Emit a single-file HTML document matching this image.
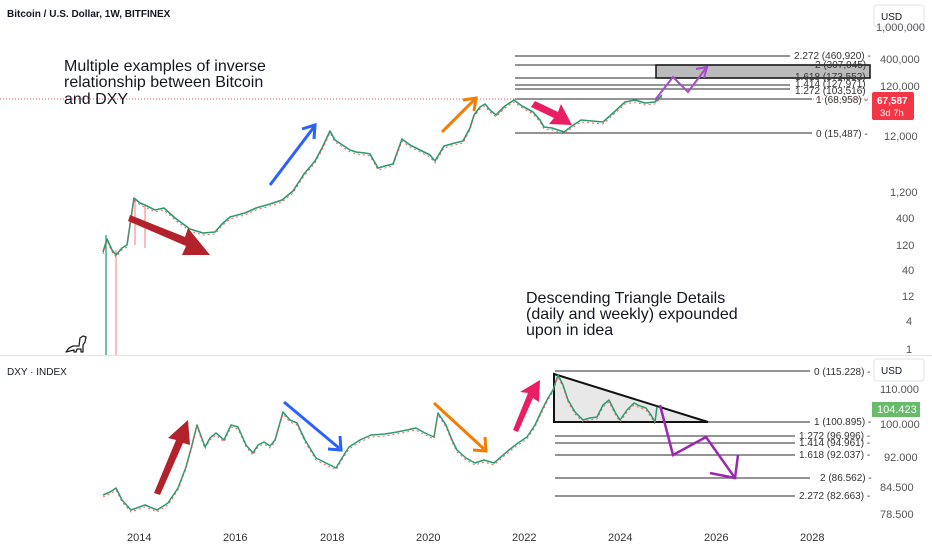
<!DOCTYPE html>
<html><head><meta charset="utf-8"><style>
html,body{margin:0;padding:0;background:#fff;}
svg{display:block;font-family:"Liberation Sans",sans-serif;}
</style></head><body>
<svg width="932" height="550" viewBox="0 0 932 550" xmlns="http://www.w3.org/2000/svg">
<rect width="932" height="550" fill="#fff"/>
<text x="7" y="17" font-size="10" font-weight="bold" fill="#131722">Bitcoin / U.S. Dollar, 1W, BITFINEX</text>
<rect x="874" y="5" width="50" height="22" rx="3" fill="#fff" stroke="#e0e3eb"/>
<text x="881" y="20" font-size="10" fill="#131722">USD</text>
<g font-size="11" fill="#555">
<text x="876" y="31">1,000,000</text>
<text x="880" y="63">400,000</text>
<text x="880" y="90">120,000</text>
<text x="884" y="140">12,000</text>
<text x="890" y="196">1,200</text>
<text x="896" y="222">400</text>
<text x="896" y="249">120</text>
<text x="902" y="274">40</text>
<text x="902" y="300">12</text>
<text x="906" y="325">4</text>
<text x="906" y="353">1</text>
</g>
<line x1="0" y1="99" x2="870" y2="99" stroke="#e55" stroke-dasharray="1,2" stroke-width="1"/>
<g font-size="16" fill="#131722">
<text x="64" y="71">Multiple examples of inverse</text>
<text x="64" y="87">relationship between Bitcoin</text>
<text x="64" y="104">and DXY</text>
<text x="526" y="303">Descending Triangle Details</text>
<text x="526" y="319">(daily and weekly) expounded</text>
<text x="526" y="335">upon in idea</text>
</g>
<g stroke="#555" stroke-width="1.2">
<line x1="515" y1="56" x2="790" y2="56"/>
<line x1="515" y1="65" x2="870" y2="65"/>
<line x1="515" y1="78" x2="870" y2="78"/>
<line x1="515" y1="85" x2="790" y2="85"/>
<line x1="515" y1="89" x2="790" y2="89"/>
<line x1="515" y1="99" x2="812" y2="99"/>
<line x1="515" y1="133" x2="812" y2="133"/>
</g>
<rect x="656" y="65" width="214" height="13" fill="#bbb" stroke="#111" stroke-width="1.5"/>
<g font-size="10" fill="#333">
<text x="794" y="59">2.272 (460,920) -</text>
<text x="815" y="68">2 (307,045)</text>
<text x="795" y="80">1.618 (173,552)</text>
<text x="795" y="87">1.414 (127,971)</text>
<text x="795" y="94">1.272 (103,516)</text>
<text x="816" y="103">1 (68,958) -</text>
<text x="816" y="137">0 (15,487) -</text>
</g>
<rect x="872" y="92" width="42" height="28" rx="2" fill="#f23645"/>
<text x="877" y="104" font-size="10" font-weight="bold" fill="#fff">67,587</text>
<text x="880" y="116" font-size="9.5" fill="#fff">3d 7h</text>
<line x1="106" y1="235" x2="106" y2="355" stroke="#089981" stroke-width="1.2"/>
<line x1="116" y1="250" x2="116" y2="355" stroke="#f77" stroke-width="1"/>
<line x1="145" y1="205" x2="145" y2="248" stroke="#f77" stroke-width="1"/>
<line x1="135" y1="200" x2="135" y2="245" stroke="#f77" stroke-width="1"/>
<polyline fill="none" stroke="#2a9a70" stroke-width="1.6" stroke-linejoin="round" points="103,252 107,239 112,250 116,255 122,248 127,245 134,198 140,203 145,205 155,210 164,208 175,218 190,229 203,233 215,232 222,224 230,217 245,213 256,208 270,204 282,200 293,191 304,174 315,161 322,148 330,131 335,140 341,144 350,150 356,152 365,153 370,154 378,168 385,166 393,164 402,139 410,145 422,151 430,155 435,161 444,146 455,143 463,141 470,128 474,115 480,107 485,104 490,110 496,115 505,106 514,100 522,106 533,112 540,120 544,127 552,128 564,132 572,126 581,120 592,121 603,122 612,114 625,102 635,100 645,103 655,102 662,95"/>
<polyline fill="none" stroke="#e55" stroke-width="0.9" stroke-dasharray="2,3" points="103,254 107,241 112,252 116,257 122,250 127,247 134,200 140,205 145,207 155,212 164,210 175,220 190,231 203,235 215,234 222,226 230,219 245,215 256,210 270,206 282,202 293,193 304,176 315,163 322,150 330,133 335,142 341,146 350,152 356,154 365,155 370,156 378,170 385,168 393,166 402,141 410,147 422,153 430,157 435,163 444,148 455,145 463,143 470,130 474,117 480,109 485,106 490,112 496,117 505,108 514,102 522,108 533,114 540,122 544,129 552,130 564,134 572,128 581,122 592,123 603,124 612,116 625,104 635,102 645,105 655,104 662,97"/>
<g stroke-width="3" fill="none">
<line x1="270" y1="185" x2="314" y2="127" stroke="#2962ff"/>
<polyline points="302,129 315,125 314,139" stroke="#2962ff"/>
<line x1="442" y1="132" x2="474" y2="100" stroke="#f57c00"/>
<polyline points="463,100 476,98 474,111" stroke="#f57c00"/>
<polyline points="655,100 673,77 688,92 706,68" stroke="#a64ac9" stroke-width="2"/>
<polyline points="696,69 707,67 704,78" stroke="#a64ac9" stroke-width="2"/>
</g>
<polygon points="130,215 185,237 188,228 210,255 182,255 186,246 128,221" fill="#b2222b"/>
<polygon points="535,101 558,112 561,104 572,125 549,124 554,118 531,107" fill="#e91e63"/>
<line x1="0" y1="355.5" x2="932" y2="355.5" stroke="#e0e3eb" stroke-width="1"/>
<path d="M66,352 l3,-4 4,-2 6,0 1,-8 3,-2 3,1 -1,5 -2,3 0,7 -2,0 0,-3 -4,0 -1,3 -2,0 0,-2 -4,1 z" fill="#fff" stroke="#222" stroke-width="1.3" stroke-linejoin="round"/>
<text x="7" y="375" font-size="10" fill="#131722">DXY · INDEX</text>
<rect x="874" y="359" width="50" height="22" rx="3" fill="#fff" stroke="#e0e3eb"/>
<text x="881" y="374" font-size="10" fill="#131722">USD</text>
<g font-size="11" fill="#555">
<text x="880" y="393">110.000</text>
<text x="880" y="428">100.000</text>
<text x="884" y="461">92.000</text>
<text x="880" y="491">84.500</text>
<text x="880" y="518">78.500</text>
</g>
<rect x="872" y="402" width="48" height="15" fill="#4caf50" opacity="0.85"/>
<text x="877" y="413" font-size="11" fill="#fff">104.423</text>
<g stroke="#555" stroke-width="1.2">
<line x1="555" y1="371" x2="810" y2="371"/>
<line x1="555" y1="422" x2="810" y2="422"/>
<line x1="555" y1="436" x2="795" y2="436"/>
<line x1="555" y1="443" x2="795" y2="443"/>
<line x1="555" y1="455" x2="795" y2="455"/>
<line x1="555" y1="478" x2="810" y2="478"/>
<line x1="555" y1="496" x2="795" y2="496"/>
</g>
<g font-size="10" fill="#333">
<text x="814" y="375">0 (115.228) -</text>
<text x="814" y="425">1 (100.895) -</text>
<text x="799" y="439">1.272 (96.996) -</text>
<text x="799" y="446">1.414 (94.961) -</text>
<text x="799" y="458">1.618 (92.037) -</text>
<text x="820" y="481">2 (86.562) -</text>
<text x="799" y="499">2.272 (82.663) -</text>
</g>
<polygon points="554,374 708,422 554,422" fill="#e8e8e8" stroke="#111" stroke-width="2"/>
<polyline fill="none" stroke="#2a9a70" stroke-width="1.5" stroke-linejoin="round" points="103,495 110,492 116,488 122,500 131,510 145,505 157,510 168,503 178,488 186,467 192,445 197,425 205,447 210,438 216,433 224,440 231,425 238,427 246,445 253,453 258,445 264,442 270,446 275,440 283,412 290,420 297,423 305,440 316,458 324,462 336,468 342,458 349,447 360,440 371,435 385,434 397,432 407,430 416,428 425,433 434,437 438,413 446,425 452,440 457,450 466,458 475,463 484,460 494,463 502,456 509,450 518,443 527,437 535,425 542,410 548,398 553,390 558,375 563,385 568,400 575,412 583,420 590,418 597,417 603,405 609,400 615,412 620,420 627,410 634,403 640,406 646,408 651,415 655,422 657,407"/>
<polyline fill="none" stroke="#e55" stroke-width="0.9" stroke-dasharray="2,3" points="103,497 110,494 116,490 122,502 131,512 145,507 157,512 168,505 178,490 186,469 192,447 197,427 205,449 210,440 216,435 224,442 231,427 238,429 246,447 253,455 258,447 264,444 270,448 275,442 283,414 290,422 297,425 305,442 316,460 324,464 336,470 342,460 349,449 360,442 371,437 385,436 397,434 407,432 416,430 425,435 434,439 438,415 446,427 452,442 457,452 466,460 475,465 484,462 494,465 502,458 509,452 518,445 527,439 535,427 542,412 548,400 553,392 558,377 563,387 568,402 575,414 583,422 590,420 597,419 603,407 609,402 615,414 620,422 627,412 634,405 640,408 646,410 651,417 655,424"/>
<g stroke-width="3" fill="none">
<line x1="284" y1="402" x2="339" y2="448" stroke="#2962ff"/>
<polyline points="340,436 341,450 328,449" stroke="#2962ff"/>
<line x1="434" y1="403" x2="484" y2="449" stroke="#f57c00"/>
<polyline points="485,437 486,451 473,450" stroke="#f57c00"/>
<polyline points="660,405 673,455 706,437 735,478" stroke="#9c27b0" stroke-width="2.5"/>
<polyline points="710,473 735,478 738,455" stroke="#9c27b0" stroke-width="2.5"/>
</g>
<polygon points="154,493 176,440 168,438 188,420 190,445 183,443 160,495" fill="#b2222b"/>
<polygon points="513,430 528,393 520,392 540,380 539,402 533,398 518,432" fill="#e91e63"/>
<g font-size="11" fill="#333">
<text x="127" y="541">2014</text>
<text x="223" y="541">2016</text>
<text x="320" y="541">2018</text>
<text x="416" y="541">2020</text>
<text x="512" y="541">2022</text>
<text x="608" y="541">2024</text>
<text x="704" y="541">2026</text>
<text x="800" y="541">2028</text>
</g>
</svg>
</body></html>
